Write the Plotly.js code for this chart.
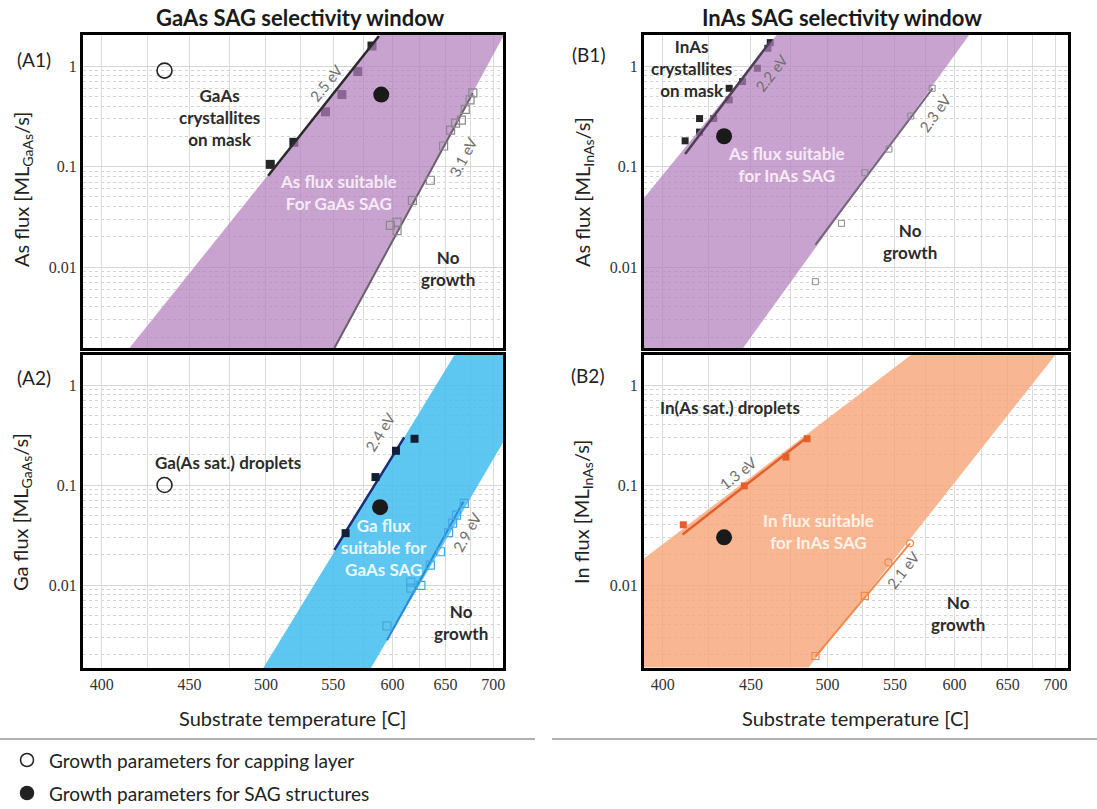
<!DOCTYPE html>
<html>
<head>
<meta charset="utf-8">
<script src="https://cdn.plot.ly/plotly-3.0.1.min.js"></script>
<style>
  html, body { margin: 0; padding: 0; background: #ffffff; }
  #chart { width: 1097px; height: 809px; }
</style>
</head>
<body>
<div id="chart"></div>
<script>
// ---- Temperature axis (Arrhenius: plotted against 1000/T, labelled in °C) ----
const tempTicks = [400, 450, 500, 550, 600, 650, 700];
const tempLabels = ['400', '450', '500', '550', '600', '650', '700'];
const tempMinor = [425, 475, 525, 575, 625, 675];
const fluxTicks = [0.01, 0.1, 1];
const fluxLabels = ['0.01', '0.1', '1'];
const fluxMinor = [0.002, 0.003, 0.004, 0.005, 0.006, 0.007, 0.008, 0.009,
                   0.02, 0.03, 0.04, 0.05, 0.06, 0.07, 0.08, 0.09,
                   0.2, 0.3, 0.4, 0.5, 0.6, 0.7, 0.8, 0.9, 2];

// ---- (A1) GaAs: As flux ----
const a1CappingT = [435];            const a1CappingF = [0.9];
const a1SagT = [590];                const a1SagF = [0.52];
const a1CrystalT = [503, 520, 544, 557, 570, 582];
const a1CrystalF = [0.105, 0.174, 0.35, 0.52, 0.88, 1.58];
const a1Fit25T = [501.5, 588];       const a1Fit25F = [0.081, 1.99];
const a1NoGrowthT = [598, 604, 604, 618, 635, 648, 655, 660, 666, 670, 675, 678];
const a1NoGrowthF = [0.026, 0.028, 0.023, 0.046, 0.073, 0.16, 0.23, 0.27, 0.29, 0.37, 0.46, 0.54];
const a1Fit31T = [551, 678];         const a1Fit31F = [0.00156, 0.54];
const a1WindowT = [415, 589, 712, 551];
const a1WindowF = [0.00156, 2.03, 2.03, 0.00156];

// ---- (A2) GaAs: Ga flux ----
const a2CappingT = [435];            const a2CappingF = [0.10];
const a2SagT = [589];                const a2SagF = [0.06];
const a2DropletT = [560, 585, 603, 620];
const a2DropletF = [0.033, 0.12, 0.22, 0.29];
const a2Fit24T = [551, 610.5];       const a2Fit24F = [0.0224, 0.30];
const a2NoGrowthT = [595, 616.5, 616.5, 626, 635, 645, 653, 657, 661, 669];
const a2NoGrowthF = [0.0039, 0.0107, 0.0093, 0.0099, 0.0158, 0.0215, 0.0334, 0.0415, 0.050, 0.0656];
const a2Fit29T = [595, 668];         const a2Fit29F = [0.0028, 0.068];
const a2WindowT = [498, 659, 712, 712, 581];
const a2WindowF = [0.00147, 2.0, 2.0, 0.275, 0.00147];

// ---- (B1) InAs: As flux ----
const b1SagT = [434];                const b1SagF = [0.20];
const b1CrystalT = [412, 420, 420, 428, 437, 437, 445, 454, 460.5, 462];
const b1CrystalF = [0.18, 0.30, 0.22, 0.30, 0.46, 0.60, 0.70, 0.95, 1.50, 1.71];
const b1Fit22T = [412, 462];         const b1Fit22F = [0.133, 1.75];
const b1NoGrowthT = [580.5, 562.7, 545.3, 526.9, 509.8, 491.6];
const b1NoGrowthF = [0.60, 0.318, 0.149, 0.0868, 0.0272, 0.00714];
const b1Fit23T = [491.6, 580.8];     const b1Fit23F = [0.0166, 0.60];
const b1WindowT = [388, 388, 466.2, 613.3, 444.5];
const b1WindowF = [0.0015, 0.043, 2.05, 2.05, 0.0015];

// ---- (B2) InAs: In flux ----
const b2SagT = [434];                const b2SagF = [0.030];
const b2DropletT = [411, 446, 472, 486];
const b2DropletF = [0.040, 0.098, 0.19, 0.29];
const b2Fit13T = [410.6, 486];       const b2Fit13F = [0.032, 0.30];
const b2NoGrowthT = [491.6, 526.9, 544.9, 562.1];
const b2NoGrowthF = [0.00195, 0.0078, 0.0168, 0.0261];
const b2NoGrowthSymbol = ['square-open', 'square-open', 'circle-open', 'circle-open'];
const b2Fit21T = [491.6, 562.1];     const b2Fit21F = [0.00192, 0.0261];
const b2WindowT = [388, 388, 564.1, 700.9, 487];
const b2WindowF = [0.0015, 0.0171, 2.05, 2.05, 0.0015];

// ---------------------------------------------------------------
const W = 1097, H = 809;
const inv = T => 1000 / (T + 273.15);
const invAll = arr => arr.map(inv);
const px = x => x / W;
const py = y => 1 - y / H;

const SANS = 'Lato, Open Sans, sans-serif';
const SERIF = 'Liberation Serif';

function band(T, F, color, xa, ya) {
  return { x: invAll(T), y: F, xaxis: xa, yaxis: ya, type: 'scatter', mode: 'lines',
           fill: 'toself', fillcolor: color, line: { width: 0 }, hoverinfo: 'skip', showlegend: false };
}
function fit(T, F, color, width, xa, ya) {
  return { x: invAll(T), y: F, xaxis: xa, yaxis: ya, type: 'scatter', mode: 'lines',
           line: { color: color, width: width }, showlegend: false };
}
function pts(T, F, symbol, size, color, xa, ya, lineW) {
  return { x: invAll(T), y: F, xaxis: xa, yaxis: ya, type: 'scatter', mode: 'markers',
           marker: { symbol: symbol, size: size, color: color,
                     line: { color: color, width: lineW === undefined ? 1.5 : lineW } },
           showlegend: false, cliponaxis: false };
}

const purple = 'rgba(180,127,188,0.72)';
const blue = 'rgba(66,189,238,0.85)';
const orange = 'rgba(246,165,119,0.8)';

const traces = [
  // A1
  pts(a1CrystalT, a1CrystalF, 'square', 9, '#262626', 'x', 'y', 0),
  band(a1WindowT, a1WindowF, purple, 'x', 'y'),
  fit(a1Fit25T, a1Fit25F, '#2a2a2a', 2.5, 'x', 'y'),
  fit(a1Fit31T, a1Fit31F, '#6c5f70', 2, 'x', 'y'),
  pts(a1NoGrowthT, a1NoGrowthF, 'square-open', 8, '#8a8a8a', 'x', 'y', 1.2),
  pts(a1CappingT, a1CappingF, 'circle-open', 15, '#222222', 'x', 'y', 1.6),
  pts(a1SagT, a1SagF, 'circle', 16, '#1a1a1a', 'x', 'y', 0),
  // B1
  pts(b1CrystalT, b1CrystalF, 'square', 7, '#262626', 'x2', 'y2', 0),
  band(b1WindowT, b1WindowF, purple, 'x2', 'y2'),
  fit(b1Fit22T, b1Fit22F, '#4d3f57', 2.5, 'x2', 'y2'),
  fit(b1Fit23T, b1Fit23F, '#76657f', 2, 'x2', 'y2'),
  pts(b1NoGrowthT, b1NoGrowthF, 'square-open', 6, '#8a8a8a', 'x2', 'y2', 1),
  pts(b1SagT, b1SagF, 'circle', 16, '#1a1a1a', 'x2', 'y2', 0),
  // A2
  band(a2WindowT, a2WindowF, blue, 'x3', 'y3'),
  fit(a2Fit24T, a2Fit24F, '#1c2c78', 2.5, 'x3', 'y3'),
  fit(a2Fit29T, a2Fit29F, '#2b8ad6', 2, 'x3', 'y3'),
  pts(a2DropletT, a2DropletF, 'square', 8, '#0f1f36', 'x3', 'y3', 0),
  pts(a2NoGrowthT, a2NoGrowthF, 'square-open', 8, '#45a6e2', 'x3', 'y3', 1.2),
  pts(a2CappingT, a2CappingF, 'circle-open', 15, '#222222', 'x3', 'y3', 1.6),
  pts(a2SagT, a2SagF, 'circle', 16, '#1a1a1a', 'x3', 'y3', 0),
  // B2
  band(b2WindowT, b2WindowF, orange, 'x4', 'y4'),
  fit(b2Fit13T, b2Fit13F, '#e65f2b', 2.5, 'x4', 'y4'),
  fit(b2Fit21T, b2Fit21F, '#f08a4b', 2, 'x4', 'y4'),
  pts(b2DropletT, b2DropletF, 'square', 7, '#e65f2b', 'x4', 'y4', 0),
  { x: invAll(b2NoGrowthT), y: b2NoGrowthF, xaxis: 'x4', yaxis: 'y4', type: 'scatter', mode: 'markers',
    marker: { symbol: b2NoGrowthSymbol, size: 7, color: '#f08a4b', line: { color: '#f08a4b', width: 1.2 } },
    showlegend: false, cliponaxis: false },
  pts(b2SagT, b2SagF, 'circle', 16, '#1a1a1a', 'x4', 'y4', 0)
];

// ---- axes ----
function xAxis(domain, range, showLabels, anchor) {
  return {
    domain: domain, range: range, anchor: anchor,
    tickmode: 'array', tickvals: invAll(tempTicks), ticktext: tempLabels,
    showticklabels: showLabels, ticks: '',
    tickfont: { family: SERIF, size: 16, color: '#333' },
    showgrid: true, gridcolor: '#dcdcdc', gridwidth: 1,
    minor: { tickmode: 'array', tickvals: invAll(tempMinor), showgrid: true,
             gridcolor: '#dcdcdc', gridwidth: 1, ticks: '' },
    showline: true, mirror: true, linecolor: '#000', linewidth: 3,
    zeroline: false, fixedrange: true
  };
}
function yAxis(domain, range, anchor) {
  return {
    domain: domain, type: 'log', range: range, anchor: anchor,
    tickmode: 'array', tickvals: fluxTicks, ticktext: fluxLabels, ticks: '',
    tickfont: { family: SERIF, size: 16, color: '#333' },
    showgrid: true, gridcolor: '#d6d6d6', gridwidth: 1,
    minor: { tickmode: 'array', tickvals: fluxMinor, showgrid: true,
             gridcolor: '#d4d4d4', griddash: 'dot', gridwidth: 1, ticks: '' },
    showline: true, mirror: true, linecolor: '#000', linewidth: 3,
    zeroline: false, fixedrange: true
  };
}

const colA = [px(83), px(503)];
const colB = [px(644), px(1068)];
const row1 = [py(348), py(35)];
const row2 = [py(668), py(355)];
const rangeA = [inv(390.2), inv(711)];
const rangeB = [inv(390.2), inv(714)];
const yRange1 = [-2.806, 0.3085];
const yRange2 = [-2.83, 0.30];

// ---- text ----
function note(text, x, y, opts) {
  const o = opts || {};
  return {
    text: text, x: px(x), y: py(y), xref: 'paper', yref: 'paper',
    xanchor: o.xanchor || 'center', yanchor: 'middle', showarrow: false,
    textangle: o.angle || 0, align: o.align || 'center',
    font: { family: o.family || SANS, size: o.size || 17, color: o.color || '#2b2b2b' }
  };
}
const bold = (t, x, y, color) => note('<b>' + t + '</b>', x, y, { color: color || '#2b2b2b' });
const energy = (t, x, y, a) => note(t, x, y, { angle: a, size: 15, color: '#6f6f6f' });

const annotations = [
  note('<b>GaAs SAG selectivity window</b>', 300, 17, { size: 22, color: '#1a1a1a' }),
  note('<b>InAs SAG selectivity window</b>', 842, 17, { size: 22, color: '#1a1a1a' }),
  note('(A1)', 34, 60, { size: 19, color: '#222' }),
  note('(A2)', 34, 377, { size: 19, color: '#222' }),
  note('(B1)', 588, 55, { size: 19, color: '#222' }),
  note('(B2)', 587, 375, { size: 19, color: '#222' }),
  note('As flux [ML<sub>GaAs</sub>/s]', 22, 190, { angle: -90, size: 20, color: '#222' }),
  note('Ga flux [ML<sub>GaAs</sub>/s]', 22, 512, { angle: -90, size: 20, color: '#222' }),
  note('As flux [ML<sub>InAs</sub>/s]', 583, 192, { angle: -90, size: 20, color: '#222' }),
  note('In flux [ML<sub>InAs</sub>/s]', 583, 512, { angle: -90, size: 20, color: '#222' }),
  note('Substrate temperature [C]', 292, 718, { size: 20, color: '#222' }),
  note('Substrate temperature [C]', 855, 718, { size: 20, color: '#222' }),
  // A1 regions
  bold('GaAs<br>crystallites<br>on mask', 219, 117),
  bold('As flux suitable<br>For GaAs SAG', 338, 193, '#f7eaf7'),
  bold('No<br>growth', 448, 268),
  energy('2.5 eV', 326, 83, -51),
  energy('3.1 eV', 463, 157, -62),
  // A2 regions
  bold('Ga(As sat.) droplets', 228, 462),
  bold('Ga flux<br>suitable for<br>GaAs SAG', 384, 547, '#eaf8fd'),
  bold('No<br>growth', 461, 622),
  energy('2.4 eV', 380, 432, -58),
  energy('2.9 eV', 467, 532, -61),
  // B1 regions
  bold('InAs<br>crystallites<br>on mask', 691, 68),
  bold('As flux suitable<br>for InAs SAG', 786, 164, '#f7eaf7'),
  bold('No<br>growth', 910, 241),
  energy('2.2 eV', 772, 72, -52),
  energy('2.3 eV', 935, 113, -54),
  // B2 regions
  bold('In(As sat.) droplets', 730, 407),
  bold('In flux suitable<br>for InAs SAG', 818, 531, '#fff1e8'),
  bold('No<br>growth', 958, 613),
  energy('1.3 eV', 738, 473, -38),
  energy('2.1 eV', 903, 570, -52),
  // key
  note('Growth parameters for capping layer', 47, 760, { xanchor: 'left', size: 19, color: '#222' }),
  note('Growth parameters for SAG structures', 47, 793, { xanchor: 'left', size: 19, color: '#222' })
];

function dot(x, y, filled) {
  return {
    type: 'circle', xref: 'paper', yref: 'paper', xsizemode: 'pixel', ysizemode: 'pixel',
    xanchor: px(x), yanchor: py(y), x0: -6.5, x1: 6.5, y0: -6.5, y1: 6.5,
    line: { color: '#222', width: 1.5 }, fillcolor: filled ? '#222' : 'rgba(0,0,0,0)'
  };
}
const shapes = [
  { type: 'line', xref: 'paper', yref: 'paper', x0: 0, x1: px(535), y0: py(739), y1: py(739),
    line: { color: '#b0b0b0', width: 2 } },
  { type: 'line', xref: 'paper', yref: 'paper', x0: px(552), x1: 1, y0: py(739), y1: py(739),
    line: { color: '#b0b0b0', width: 2 } },
  dot(27, 760, false),
  dot(27, 793, true)
];

const layout = {
  width: W, height: H,
  margin: { l: 0, r: 0, t: 0, b: 0 },
  paper_bgcolor: '#ffffff', plot_bgcolor: '#ffffff',
  showlegend: false,
  xaxis: xAxis(colA, rangeA, false, 'y'),
  yaxis: yAxis(row1, yRange1, 'x'),
  xaxis2: xAxis(colB, rangeB, false, 'y2'),
  yaxis2: yAxis(row1, yRange1, 'x2'),
  xaxis3: xAxis(colA, rangeA, true, 'y3'),
  yaxis3: yAxis(row2, yRange2, 'x3'),
  xaxis4: xAxis(colB, rangeB, true, 'y4'),
  yaxis4: yAxis(row2, yRange2, 'x4'),
  annotations: annotations,
  shapes: shapes
};

Plotly.newPlot('chart', traces, layout, { displayModeBar: false, staticPlot: true });
</script>
</body>
</html>
